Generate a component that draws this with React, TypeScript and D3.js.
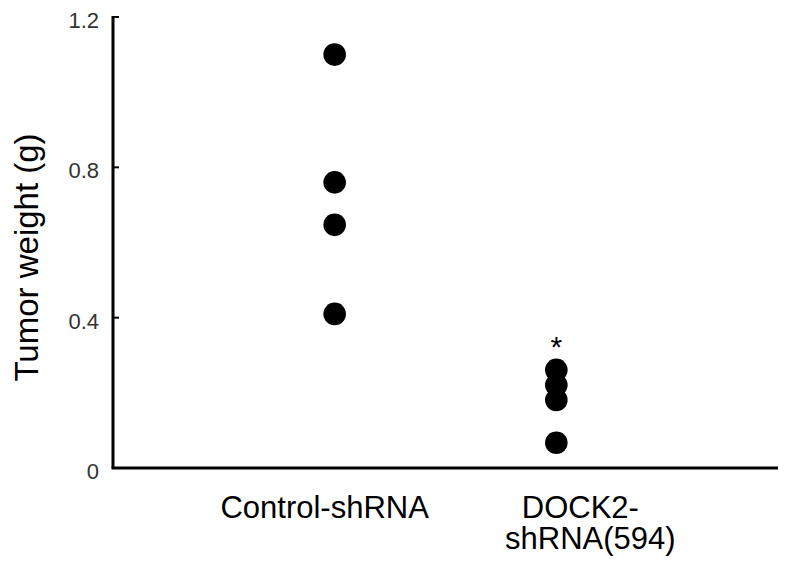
import * as React from "react";
import * as d3 from "d3";

const categories = ["Control-shRNA", "DOCK2-shRNA(594)"];
const controlValues = [1.1, 0.76, 0.647, 0.41];
const dockValues = [0.261, 0.221, 0.181, 0.067];
const yTicks = [0, 0.4, 0.8, 1.2];
const categoryLines = [["Control-shRNA"], ["DOCK2-", "shRNA(594)"]];
const significance = ["", "*"];

const width = 785;
const height = 570;
const margin = { left: 113, right: 7, top: 17, bottom: 102 };

export default function App() {
  const x = d3
    .scalePoint<string>()
    .domain(categories)
    .range([margin.left, width - margin.right])
    .padding(1);

  const y = d3
    .scaleLinear()
    .domain([0, 1.2])
    .range([height - margin.bottom, margin.top]);

  const series = [controlValues, dockValues];
  // label lines are not centered on the dots in the original
  const lineOffsets = [[-10], [24, 34]];

  return (
    <svg
      width={width}
      height={height}
      style={{ position: "absolute", left: 0, top: 0, background: "#fff" }}
      fontFamily="Liberation Sans, Arial, sans-serif"
    >
      {/* y axis */}
      <line
        x1={margin.left}
        x2={margin.left}
        y1={y(1.2) - 1}
        y2={y(0)}
        stroke="#000"
        strokeWidth={3}
      />
      {yTicks.map(t => (
        <g key={t}>
          <line
            x1={margin.left}
            x2={margin.left + 6}
            y1={y(t)}
            y2={y(t)}
            stroke="#000"
            strokeWidth={2}
          />
          <text
            x={margin.left - 14}
            y={y(t)}
            dy="0.5em"
            textAnchor="end"
            fontSize={22}
            fill="#333"
          >
            {t === 0 ? "0" : t.toFixed(1)}
          </text>
        </g>
      ))}
      <text
        transform={`translate(38,${(y(0) + y(1.2)) / 2 + 3}) rotate(-90)`}
        textAnchor="middle"
        dx={-12}
        fontSize={33}
        fill="#000"
      >
        Tumor weight (g)
      </text>

      {/* x axis */}
      <line
        x1={margin.left - 1.5}
        x2={width - margin.right}
        y1={y(0)}
        y2={y(0)}
        stroke="#000"
        strokeWidth={3}
      />
      {categories.map((c, i) =>
        categoryLines[i].map((l, j) => (
          <text
            key={c + j}
            x={(x(c) as number) + lineOffsets[i][j]}
            y={y(0) + 50 + j * 31}
            textAnchor="middle"
            fontSize={31}
            fill="#000"
          >
            {l}
          </text>
        ))
      )}

      {/* dots */}
      {categories.map((c, i) =>
        series[i].map((v, j) => (
          <circle key={c + j} cx={x(c)} cy={y(v)} r={11.3} fill="#000" />
        ))
      )}

      {categories.map((c, i) =>
        significance[i] ? (
          <text
            key={c + "sig"}
            x={x(c)}
            y={y(d3.max(series[i]) as number) - 13}
            textAnchor="middle"
            fontSize={30}
            fill="#000"
          >
            {significance[i]}
          </text>
        ) : null
      )}
    </svg>
  );
}
